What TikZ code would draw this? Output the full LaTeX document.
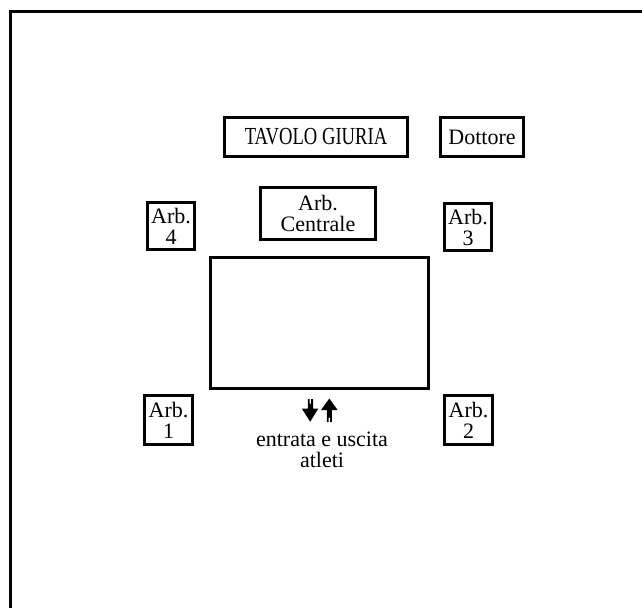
\documentclass[tikz,border=0pt]{standalone}
\usepackage{fontspec}
\usepackage{graphicx}
\setmainfont{Liberation Serif}
\begin{document}
\begin{tikzpicture}[x=1pt,y=-1pt,
  lbl/.style={font=\fontsize{22}{21}\selectfont},
  box/.style={draw=black,line width=2.6pt,inner sep=0pt,align=center,lbl},
  field/.style={draw=black,line width=2.6pt,inner sep=0pt},
  frame/.style={draw=black,line width=3.5pt},
  glyph/.style={fill=black,draw=none}]
\useasboundingbox (0,0) rectangle (642,608);
\fill[white] (0,0) rectangle (642,608);
% outer frame (left and top edges)
\coordinate (fbl) at (10.5,608);
\coordinate (fc) at (10.5,11.5);
\coordinate (ftr) at (642,11.5);
\draw[frame] (fbl) -- (fc) -- (ftr);
% boxes
\node[box,minimum width=183.4pt,minimum height=39.4pt] (giuria) at (316,137)
  {\fontsize{24.5}{24}\selectfont\scalebox{0.76}[1]{TAVOLO GIURIA}};
\node[box,minimum width=83.4pt,minimum height=39.4pt] (dottore) at (482,137) {Dottore};
\node[box,minimum width=115.4pt,minimum height=52.4pt] (centrale) at (318,213.5) {Arb.\\Centrale};
\node[box,minimum width=47.4pt,minimum height=47.4pt] (arb4) at (171,226) {Arb.\\4};
\node[box,minimum width=47.4pt,minimum height=47.4pt] (arb3) at (468,227) {Arb.\\3};
\node[box,minimum width=48.4pt,minimum height=49.4pt] (arb1) at (168.5,420) {Arb.\\1};
\node[box,minimum width=48.4pt,minimum height=49.4pt] (arb2) at (468.5,420) {Arb.\\2};
\node[field,minimum width=218.4pt,minimum height=131.4pt] (campo) at (319.5,323) {};
% entry/exit arrows
\fill[glyph] (307.8,399) -- (309.6,399) -- (309.6,403.5) -- (311.2,403.5) -- (311.2,399)
  -- (313,399) -- (313,408.5) -- (318.3,408.5) -- (310.2,421.8) -- (301.8,408.5)
  -- (307.8,408.5) -- cycle;
\fill[glyph] (329.3,398.5) -- (337.6,410) -- (331.9,410) -- (331.9,422) -- (330.1,422)
  -- (330.1,417.5) -- (328.6,417.5) -- (328.6,422) -- (326.8,422) -- (326.8,410)
  -- (321,410) -- cycle;
\node[lbl,align=center,inner sep=0pt] (uscita) at (322,450) {entrata e uscita\\atleti};
\end{tikzpicture}
\end{document}
